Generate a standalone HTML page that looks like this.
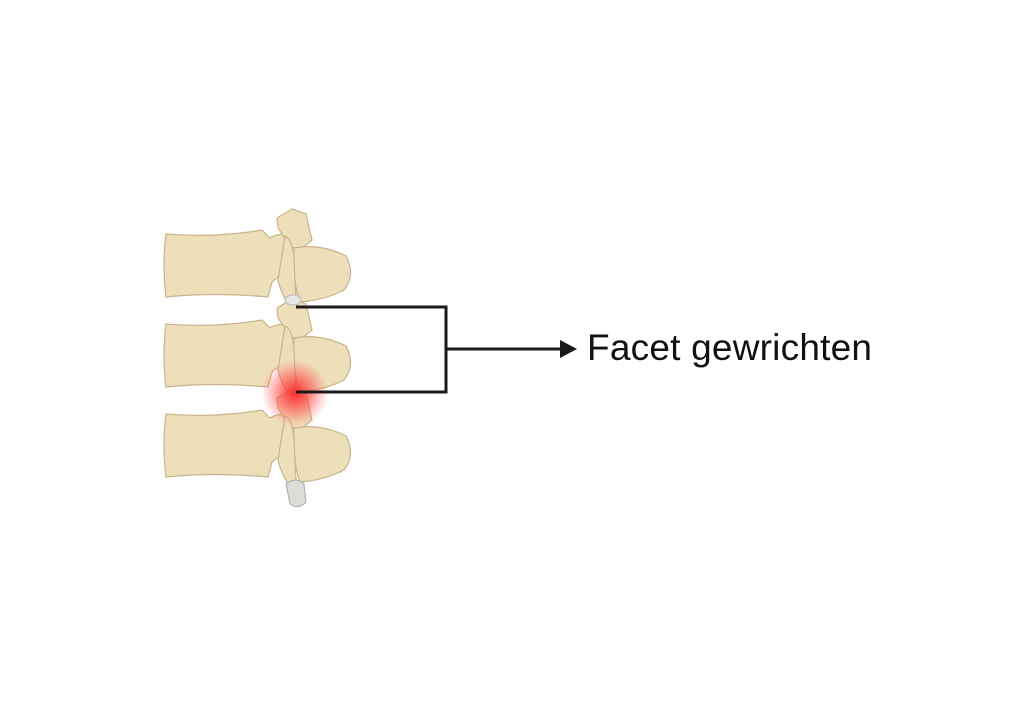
<!DOCTYPE html>
<html><head><meta charset="utf-8"><style>
html,body{margin:0;padding:0;background:#fff;width:1024px;height:717px;overflow:hidden}
</style></head><body>
<svg width="1024" height="717" viewBox="0 0 1024 717" xmlns="http://www.w3.org/2000/svg">
<defs>
<g id="v" stroke="#c9b48a" stroke-width="1.2" fill="#eedfbb">
  <path d="M166,234 Q215,238 262,230 L270,238 Q280,232 290,236 L292,270 Q280,275 272,282 L268,297 Q215,292 166,297 Q162,265 166,234 Z"/>
  <path d="M277,218 L292,209 L306,214 L312,240 L300,250 L290,246 L278,228 Z"/>
  <path d="M294,248 Q320,243 346,256 Q356,275 344,290 Q325,300 300,302 Q292,280 294,248 Z"/>
  <path d="M285,236 Q293,240 294,260 L296,300 L288,304 Q280,290 278,280 Z"/>
</g>
<radialGradient id="r" cx="0.5" cy="0.5" r="0.5">
  <stop offset="0" stop-color="#ff2020" stop-opacity="0.95"/>
  <stop offset="0.5" stop-color="#ff4040" stop-opacity="0.55"/>
  <stop offset="1" stop-color="#ff6060" stop-opacity="0"/>
</radialGradient>
</defs>
<use href="#v"/>
<use href="#v" transform="translate(0,90)"/>
<use href="#v" transform="translate(0,180)"/>
<ellipse cx="293" cy="300" rx="8" ry="5" fill="#e6e6e2" stroke="#bbb"/>
<path d="M286,484 Q296,476 304,484 L306,502 Q298,510 290,504 Z" fill="#dcdcd8" stroke="#aaa"/>
<circle cx="295" cy="393" r="34" fill="url(#r)"/>
<g stroke="#1a1a1a" stroke-width="3" fill="none">
  <polyline points="296,307 446,307 446,392 296,392"/>
  <line x1="446" y1="349" x2="562" y2="349"/>
</g>
<polygon points="560,340 577,349 560,358" fill="#1a1a1a"/>
<text x="587" y="360" font-family="Liberation Sans, sans-serif" font-size="37" textLength="285" fill="#111">Facet gewrichten</text>
</svg>
</body></html>
